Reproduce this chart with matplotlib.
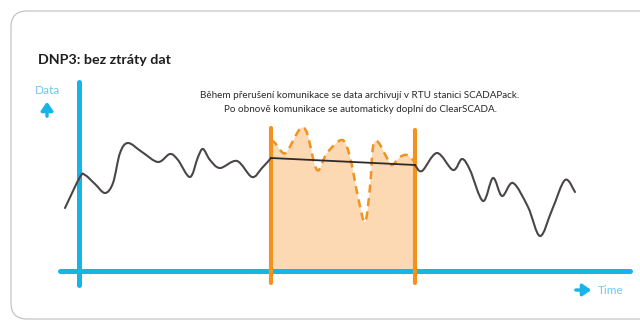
import matplotlib
matplotlib.use('Agg')
import matplotlib.pyplot as plt
from matplotlib.path import Path
from matplotlib.patches import PathPatch, FancyBboxPatch, FancyArrowPatch

BLUE = '#17b4e9'
LIGHT_BLUE = '#6cc9ef'
ORANGE = '#f3921f'
FILL = '#fcd9b3'
INK = '#4a4646'
FONT = ['Lato', 'DejaVu Sans']

title = 'DNP3: bez ztráty dat'
note = ['Během přerušení komunikace se data archivují v RTU stanici SCADAPack.',
        'Po obnově komunikace se automaticky doplní do ClearSCADA.']
y_label = 'Data'
x_label = 'Time'

# measured signal before the outage (x, y in screen units, y grows down)
live_x = [65, 80, 85, 95, 105, 113, 120, 128, 142, 158, 170, 178, 190, 198, 203,
          210, 220, 237, 252, 262, 271]
live_y = [208, 177, 175, 184, 193, 183, 153, 143, 152, 162, 154, 160, 177, 157, 149,
          160, 168, 161, 177, 168, 158]

# what ClearSCADA sees during the outage: straight interpolation
gap_x = [271, 415]
gap_y = [158, 165]

# signal after reconnection
after_x = [415, 422, 437, 453, 462, 470, 483, 493, 502, 513, 528, 540, 552, 565, 575]
after_y = [165, 171, 153, 170, 159, 170, 201, 178, 196, 183, 207, 236, 210, 180, 192]

# values archived in the RTU during the outage
arch_x = [271, 275, 283, 288, 300, 307, 317, 327, 342, 350, 358, 365, 370, 373, 378,
          387, 392, 400, 407, 413, 415]
arch_y = [140, 143, 153, 150, 129, 133, 170, 153, 140, 157, 197, 222, 187, 147, 142,
          158, 165, 157, 155, 160, 162]

outage_start = 271
outage_end = 415
baseline = 271


def smooth_path(xs, ys):
    # catmull-rom through the points, written as cubic bezier segments
    pts = list(zip(xs, ys))
    ext = [pts[0]] + pts + [pts[-1]]
    verts = [pts[0]]
    codes = [Path.MOVETO]
    for i in range(1, len(ext) - 2):
        p0, p1, p2, p3 = ext[i - 1], ext[i], ext[i + 1], ext[i + 2]
        c1 = (p1[0] + (p2[0] - p0[0]) / 6, p1[1] + (p2[1] - p0[1]) / 6)
        c2 = (p2[0] - (p3[0] - p1[0]) / 6, p2[1] - (p3[1] - p1[1]) / 6)
        verts += [c1, c2, p2]
        codes += [Path.CURVE4] * 3
    return verts, codes


fig = plt.figure(figsize=(6.4, 3.25), dpi=100)
ax = fig.add_axes([0, 0, 1, 1])
ax.set_xlim(0, 640)
ax.set_ylim(325, 0)
ax.axis('off')

frame = FancyBboxPatch((11, 11), 680, 308, boxstyle='round,pad=0,rounding_size=16',
                       fc='white', ec='#c4c4c4', lw=0.9)
ax.add_patch(frame)

# archived area
v, c = smooth_path(arch_x, arch_y)
v_fill = v + [(outage_end, baseline), (outage_start, baseline), v[0]]
c_fill = c + [Path.LINETO, Path.LINETO, Path.CLOSEPOLY]
ax.add_patch(PathPatch(Path(v_fill, c_fill), fc=FILL, ec='none', zorder=2))
ax.add_patch(PathPatch(Path(v, c), fc='none', ec=ORANGE, lw=1.8,
                       ls=(0, (3.2, 2.2)), zorder=4))

# axes
ax.plot([60, 630], [baseline, baseline], color=BLUE, lw=3.6, solid_capstyle='round', zorder=3)
ax.plot([79, 79], [82, 285], color=BLUE, lw=3.6, solid_capstyle='round', zorder=3)

# outage markers
ax.plot([outage_start, outage_start], [128, 283], color=ORANGE, lw=3.0, solid_capstyle='round', zorder=5)
ax.plot([outage_end, outage_end], [130, 283], color=ORANGE, lw=3.0, solid_capstyle='round', zorder=5)

# signal
for xs, ys in [(live_x, live_y), (after_x, after_y)]:
    v, c = smooth_path(xs, ys)
    ax.add_patch(PathPatch(Path(v, c), fc='none', ec=INK, lw=1.5, capstyle='round', zorder=6))
ax.plot(gap_x, gap_y, color='#2d2a2a', lw=1.3, zorder=6)

ax.text(38, 60, title, fontsize=10.3, fontweight='bold', color='#1e1e1e',
        family=FONT, va='center', ha='left')
ax.text(360, 95, note[0], fontsize=7.1, color='#2a2a2a', ha='center', va='center', family=FONT)
ax.text(360, 109, note[1], fontsize=7.1, color='#2a2a2a', ha='center', va='center', family=FONT)

ax.text(47, 90, y_label, fontsize=8.5, color=LIGHT_BLUE, ha='center', va='center', family=FONT)
ax.add_patch(FancyArrowPatch((47, 119), (47, 99), arrowstyle='-|>,head_length=5,head_width=3.5',
                             color=BLUE, lw=2.4, mutation_scale=1))
ax.text(598, 290, x_label, fontsize=8.5, color=LIGHT_BLUE, ha='left', va='center', family=FONT)
ax.add_patch(FancyArrowPatch((573, 290), (594, 290), arrowstyle='-|>,head_length=5,head_width=3.5',
                             color=BLUE, lw=2.4, mutation_scale=1))

fig.savefig('out.png', dpi=100)
